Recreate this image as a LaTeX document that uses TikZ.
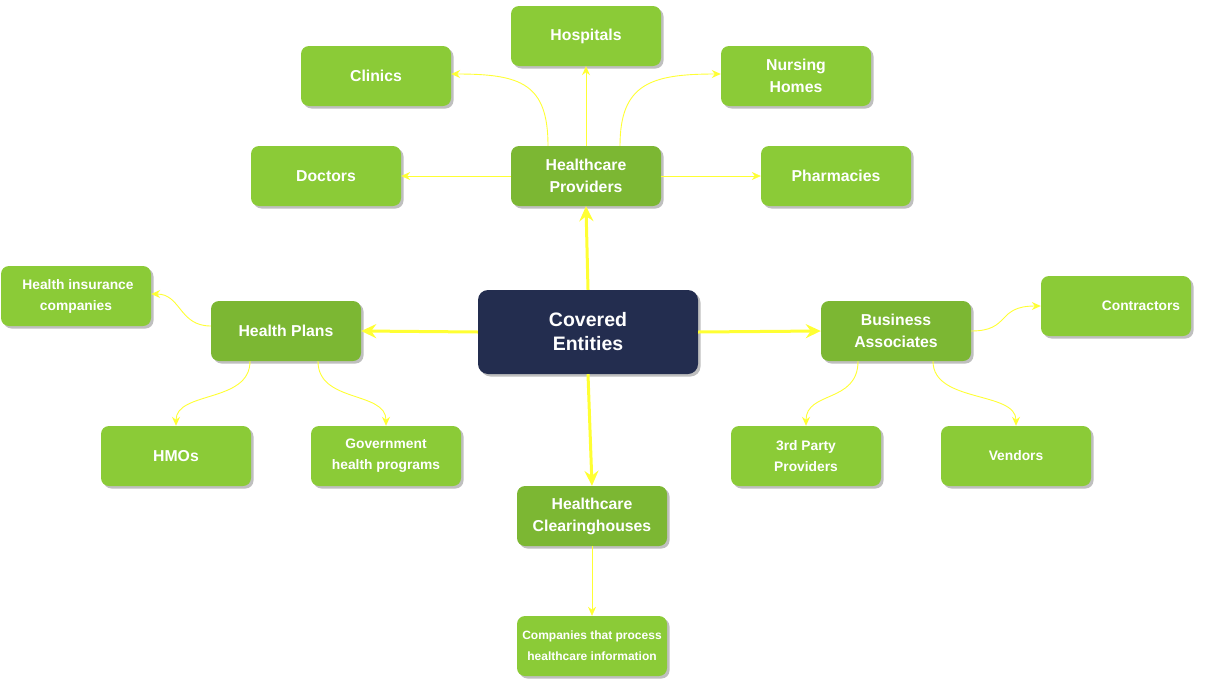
\documentclass[tikz,border=0pt]{standalone}
\usepackage{fontspec}
\setmainfont{Liberation Sans}
\usetikzlibrary{shadows,arrows.meta,calc}
\definecolor{lgreen}{HTML}{8BCB37}
\definecolor{dgreen}{HTML}{7CB733}
\definecolor{navy}{HTML}{232D4F}
\definecolor{yel}{HTML}{FFFF33}
\begin{document}
\begin{tikzpicture}[x=1pt,y=-1pt,
  box/.style={rounded corners=8pt, minimum width=150pt, minimum height=60pt, text=white, align=center, inner sep=0pt,
    drop shadow={shadow xshift=2.5pt, shadow yshift=-2.5pt, fill=black, opacity=0.25}},
  leaf/.style={box, fill=lgreen},
  mid/.style={box, fill=dgreen},
  fa/.style={font=\bfseries\fontsize{15.8}{22}\selectfont},
  fb/.style={font=\bfseries\fontsize{13.8}{21}\selectfont},
  fc/.style={font=\bfseries\fontsize{12}{21}\selectfont},
  bigarrow/.style={draw=yel, line width=3pt, -{Stealth[length=15pt,width=14pt,inset=5pt]}},
  smallarrow/.style={draw=yel, line width=0.9pt, -{Stealth[length=9pt,width=8pt,inset=3pt]}}
]
\useasboundingbox (0,0) rectangle (1215,688);

% central
\node[box, fill=navy, minimum width=220pt, minimum height=84pt, rounded corners=10pt,
      font=\bfseries\fontsize{19.5}{24}\selectfont] (ce) at (588,332) {Covered\\Entities};

% middle level
\node[mid, fa] (hp)  at (586,176) {Healthcare\\Providers};
\node[mid, fa] (hpl) at (286,331) {Health Plans};
\node[mid, fa] (ba)  at (896,331) {Business\\Associates};
\node[mid, fa] (hch) at (592,516) {Healthcare\\Clearinghouses};

% leaves
\node[leaf, fa] (hosp)  at (586,36)  {Hospitals};
\node[leaf, fa] (clin)  at (376,76)  {Clinics};
\node[leaf, fa] (nurs)  at (796,76)  {Nursing\\Homes};
\node[leaf, fa] (doc)   at (326,176) {Doctors};
\node[leaf, fa] (pharm) at (836,176) {Pharmacies};
\node[leaf, fb] (hic)   at (76,296)  {\hspace*{4pt}Health insurance\\companies};
\node[leaf, fa] (hmo)   at (176,456) {HMOs};
\node[leaf, fb] (gov)   at (386,456) {Government\\health programs};
\node[leaf, fb] (con)   at (1116,306) {\hspace*{50pt}Contractors};
\node[leaf, fb] (tpp)   at (806,456) {3rd Party\\Providers};
\node[leaf, fb] (ven)   at (1016,456) {Vendors};
\node[leaf, fc] (comp)  at (592,646) {Companies that process\\healthcare information};

% main arrows
\draw[bigarrow] (ce.north) -- (hp.south);
\draw[bigarrow] (ce.west) -- (hpl.east);
\draw[bigarrow] (ce.east) -- (ba.west);
\draw[bigarrow] (ce.south) -- (hch.north);

% providers
\draw[smallarrow] (hp.north) -- (hosp.south);
\draw[smallarrow] ([xshift=-38pt]hp.north) .. controls +(0,-62) and +(70,0) .. ([yshift=2pt]clin.east);
\draw[smallarrow] ([xshift=34pt]hp.north) .. controls +(0,-62) and +(-70,0) .. ([yshift=2pt]nurs.west);
\draw[smallarrow, line width=0.6pt] (hp.west) -- (doc.east);
\draw[smallarrow, line width=0.6pt] (hp.east) -- (pharm.west);

% health plans
\draw[smallarrow] ([yshift=5pt]hpl.west) .. controls +(-32,0) and +(30,0) .. ([yshift=2pt]hic.east);
\draw[smallarrow] ([xshift=-36pt]hpl.south) .. controls +(0,42) and +(0,-35) .. (hmo.north);
\draw[smallarrow] ([xshift=32pt]hpl.south) .. controls +(0,42) and +(0,-35) .. (gov.north);

% business associates
\draw[smallarrow] (ba.east) .. controls +(40,0) and +(-45,0) .. (con.west);
\draw[smallarrow] ([xshift=-38pt]ba.south) .. controls +(0,42) and +(0,-35) .. (tpp.north);
\draw[smallarrow] ([xshift=37pt]ba.south) .. controls +(0,42) and +(0,-35) .. (ven.north);

% clearinghouses
\draw[smallarrow, line width=0.6pt] (hch.south) -- (comp.north);
\end{tikzpicture}
\end{document}
